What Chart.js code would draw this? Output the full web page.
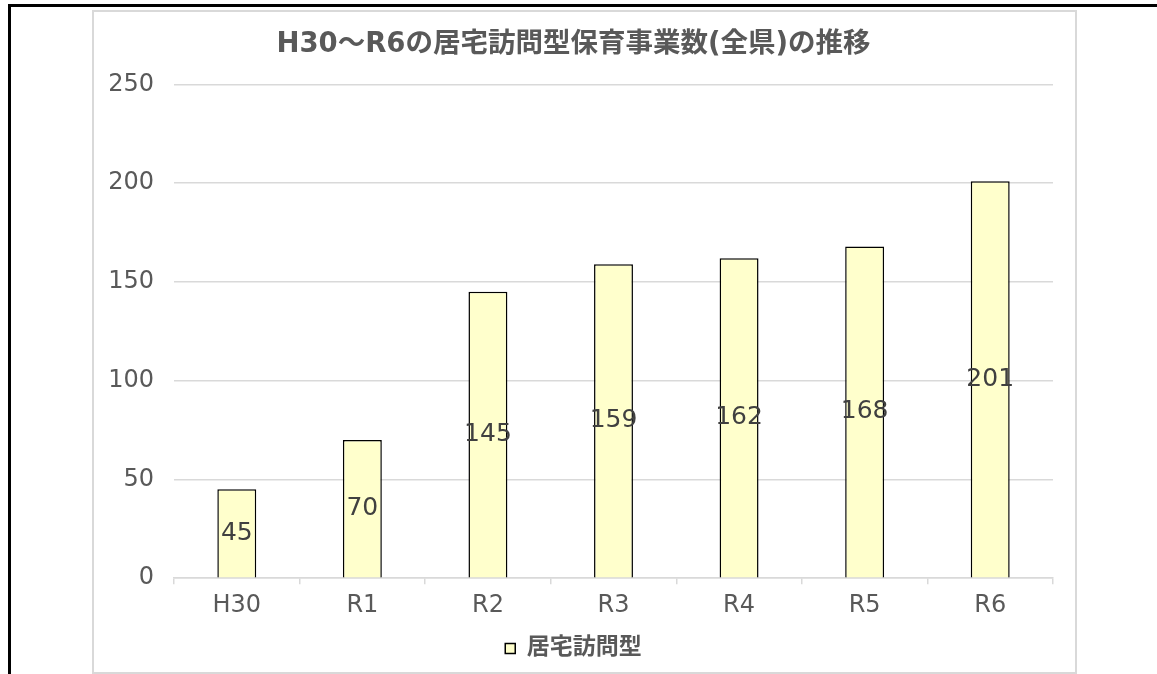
<!DOCTYPE html>
<html lang="ja">
<head>
<meta charset="utf-8">
<title>居宅訪問型保育事業数の推移</title>
<script src="https://cdn.jsdelivr.net/npm/chart.js@4.4.1/dist/chart.umd.min.js"></script>
<style>
  html, body { margin: 0; padding: 0; background: #fff; }
  body { width: 1157px; height: 674px; position: relative; overflow: hidden; }
  .frame-top { position: absolute; left: 8px; top: 4px; width: 1149px; height: 3px; background: #000; }
  .frame-left { position: absolute; left: 8px; top: 4px; width: 3px; height: 670px; background: #000; }
  .chart-box {
    position: absolute; left: 92px; top: 10px;
    width: 981px; height: 660px;
    border: 2px solid #d9d9d9;
  }
</style>
</head>
<body>
<div class="frame-top"></div>
<div class="frame-left"></div>
<div class="chart-box">
  <canvas id="visitChart"></canvas>
</div>
<script>
const years = ["H30", "R1", "R2", "R3", "R4", "R5", "R6"];
const visitCounts = [45, 70, 145, 159, 162, 168, 201];
const seriesName = "居宅訪問型";
const chartTitle = "H30～R6の居宅訪問型保育事業数(全県)の推移";

const FONT = "'DejaVu Sans', 'Noto Sans CJK JP', sans-serif";
Chart.defaults.font.family = FONT;
Chart.defaults.color = "#595959";

// value labels in the middle of each bar
const centerLabels = {
  id: "centerLabels",
  afterDatasetsDraw(chart) {
    const ctx = chart.ctx;
    const meta = chart.getDatasetMeta(0);
    ctx.save();
    ctx.font = "25px " + FONT;
    ctx.fillStyle = "#404040";
    ctx.textAlign = "center";
    ctx.textBaseline = "middle";
    meta.data.forEach((bar, i) => {
      const y = (bar.y + bar.base) / 2;
      ctx.fillText(String(chart.data.datasets[0].data[i]), bar.x, y);
    });
    ctx.restore();
  },
};

document.addEventListener("DOMContentLoaded", function () {
  const ctx = document.getElementById("visitChart");
  if (!ctx) return;

  new Chart(ctx, {
    type: "bar",
    data: {
      labels: years,
      datasets: [
        {
          label: seriesName,
          data: visitCounts,
          backgroundColor: "#ffffcc",
          borderColor: "#000000",
          borderWidth: 1.5,
          barPercentage: 0.31,
          categoryPercentage: 1.0,
        },
      ],
    },
    options: {
      responsive: true,
      maintainAspectRatio: false,
      animation: false,
      layout: {
        padding: { left: 0, right: 22, top: 0, bottom: 2 },
      },
      scales: {
        x: {
          offset: true,
          border: { display: true, color: "#d9d9d9", width: 1.5 },
          grid: {
            display: true,
            drawOnChartArea: false,
            drawTicks: true,
            tickLength: 6,
            color: "#d9d9d9",
            lineWidth: 1.5,
          },
          ticks: {
            padding: 7,
            color: "#595959",
            font: { size: 24 },
          },
        },
        y: {
          min: 0,
          max: 250,
          afterFit(scale) {
            scale.width = 80;
          },
          border: { display: false },
          grid: {
            color: "#d9d9d9",
            lineWidth: 1.5,
            drawTicks: false,
          },
          ticks: {
            stepSize: 50,
            padding: 20,
            color: "#595959",
            font: { size: 24 },
          },
        },
      },
      plugins: {
        title: {
          display: true,
          text: chartTitle,
          color: "#595959",
          font: { size: 27.5, weight: "bold" },
          padding: { top: 16, bottom: 23.5 },
        },
        legend: {
          position: "bottom",
          labels: {
            boxWidth: 10,
            boxHeight: 10,
            padding: 10,
            color: "#595959",
            font: { size: 23, weight: "bold" },
          },
        },
        tooltip: { enabled: false },
      },
    },
    plugins: [centerLabels],
  });
});
</script>
</body>
</html>
